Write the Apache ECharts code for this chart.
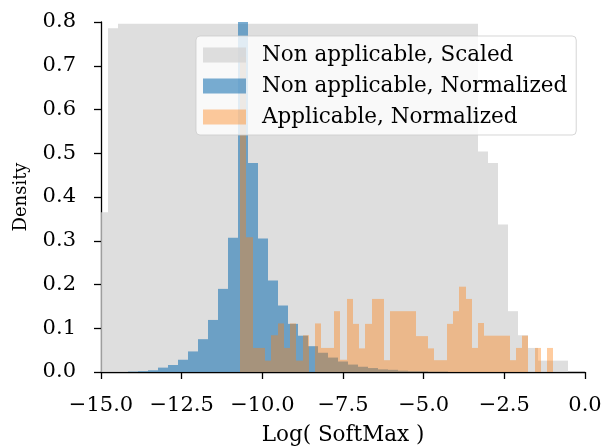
<!DOCTYPE html>
<html>
<head>
<meta charset="utf-8">
<script src="https://cdn.jsdelivr.net/npm/echarts@6/dist/echarts.min.js"></script>
<style>
  html, body { margin: 0; padding: 0; background: #fff; }
  #chart { width: 603px; height: 447px; }
</style>
</head>
<body>
<div id="chart"></div>
<script>
// histogram bins (log softmax)
var nonAppBinStart = -15.084;
var nonAppBinWidth = 0.3099;
var appBinStart = -10.693;
var appBinWidth = 0.1943;

// Non applicable, Scaled (47 bins)
var grayDensity = [
  0.365, 0.786, 0.796, 0.796, 0.796, 0.796, 0.796, 0.796, 0.796, 0.796,
  0.796, 0.796, 0.796, 0.796, 0.796, 0.796, 0.796, 0.796, 0.796, 0.796,
  0.796, 0.796, 0.796, 0.796, 0.796, 0.796, 0.796, 0.796, 0.796, 0.796,
  0.796, 0.796, 0.796, 0.796, 0.796, 0.796, 0.796, 0.796, 0.504, 0.478,
  0.337, 0.139, 0.084, 0.055, 0.026, 0.026, 0.026
];
// Non applicable, Normalized (same bins)
var blueDensity = [
  0, 0, 0, 0.001, 0.002, 0.004, 0.010, 0.016, 0.028, 0.047,
  0.075, 0.119, 0.190, 0.307, 0.870, 0.478, 0.305, 0.209, 0.152, 0.110,
  0.083, 0.059, 0.044, 0.033, 0.024, 0.017, 0.012, 0.009, 0.006, 0.005,
  0.003, 0.002, 0.002, 0.001, 0.001, 0, 0, 0, 0, 0,
  0, 0, 0, 0, 0, 0, 0
];
// Applicable, Normalized (50 bins)
var orangeDensity = [
  0.720, 0.308, 0.055, 0.055, 0.026, 0.084, 0.111, 0.055, 0.111, 0.026,
  0.084, 0, 0.111, 0.055, 0.055, 0.139, 0.028, 0.167, 0.110, 0.054,
  0.110, 0.167, 0.167, 0.027, 0.139, 0.139, 0.139, 0.139, 0.082, 0.082,
  0.054, 0.027, 0.027, 0.110, 0.139, 0.195, 0.167, 0.055, 0.112, 0.083,
  0.083, 0.083, 0.083, 0.027, 0.055, 0.083, 0, 0.055, 0, 0.055
];

var xTicks = { min: -15, max: 0, step: 2.5 };
var yTicks = { min: 0, max: 0.8, step: 0.1 };

var font = 'DejaVu Serif';

function toBins(start, width, values) {
  var out = [];
  for (var i = 0; i < values.length; i++) {
    out.push([start + i * width, start + (i + 1) * width, values[i]]);
  }
  return out;
}

function histSeries(name, data, color) {
  return {
    name: name,
    type: 'custom',
    clip: true,
    itemStyle: { color: color },
    encode: { x: [0, 1], y: 2 },
    data: data,
    renderItem: function (params, api) {
      var p0 = api.coord([api.value(0), 0]);
      var p1 = api.coord([api.value(1), api.value(2)]);
      // snap to whole pixels so neighbouring bins don't leave seams
      var x0 = Math.round(p0[0]), x1 = Math.round(p1[0]);
      return {
        type: 'rect',
        shape: { x: x0, y: p1[1], width: x1 - x0, height: p0[1] - p1[1] },
        style: { fill: color }
      };
    }
  };
}

var myChart = echarts.init(document.getElementById('chart'), null, { renderer: 'canvas' });

var option = {
  animation: false,
  backgroundColor: '#fff',
  textStyle: { fontFamily: font },
  grid: { left: 101, right: 18, top: 22, bottom: 75, outerBoundsMode: 'none' },
  legend: {
    orient: 'vertical',
    left: 196,
    top: 36,
    icon: 'rect',
    itemWidth: 43,
    itemHeight: 15,
    itemGap: 9,
    padding: [8, 9, 7, 7],
    backgroundColor: 'rgba(255,255,255,0.8)',
    borderColor: 'rgba(204,204,204,0.8)',
    borderWidth: 1,
    borderRadius: 4,
    selectedMode: false,
    textStyle: { fontFamily: font, fontSize: 21.5, color: '#000', padding: [0, 0, 0, 11] },
    data: ['Non applicable, Scaled', 'Non applicable, Normalized', 'Applicable, Normalized']
  },
  xAxis: {
    type: 'value',
    min: xTicks.min,
    max: xTicks.max,
    interval: xTicks.step,
    name: 'Log( SoftMax )',
    nameLocation: 'middle',
    nameGap: 52,
    nameTextStyle: { fontFamily: font, fontSize: 21.5, color: '#000' },
    axisLine: { onZero: false, lineStyle: { color: '#000', width: 1.3 } },
    axisTick: { length: 7, lineStyle: { color: '#000', width: 1.3 } },
    axisLabel: {
      margin: 23, fontFamily: font, fontSize: 21, color: '#000',
      formatter: function (v) { return v.toFixed(1).replace('-', '\u2212'); }
    },
    splitLine: { show: false }
  },
  yAxis: {
    type: 'value',
    min: yTicks.min,
    max: yTicks.max,
    interval: yTicks.step,
    name: 'Density',
    nameLocation: 'middle',
    nameGap: 71,
    nameRotate: 90,
    nameTextStyle: { fontFamily: font, fontSize: 18, color: '#000' },
    axisLine: { show: true, onZero: false, lineStyle: { color: '#000', width: 1.3 } },
    axisTick: { show: true, length: 7, lineStyle: { color: '#000', width: 1.3 } },
    axisLabel: {
      margin: 25, fontFamily: font, fontSize: 21, color: '#000',
      formatter: function (v) { return v.toFixed(1); }
    },
    splitLine: { show: false }
  },
  series: [
    histSeries('Non applicable, Scaled', toBins(nonAppBinStart, nonAppBinWidth, grayDensity), 'rgba(211,211,211,0.75)'),
    histSeries('Non applicable, Normalized', toBins(nonAppBinStart, nonAppBinWidth, blueDensity), 'rgba(31,119,180,0.6)'),
    histSeries('Applicable, Normalized', toBins(appBinStart, appBinWidth, orangeDensity), 'rgba(255,127,14,0.4)')
  ]
};

myChart.setOption(option);
</script>
</body>
</html>
